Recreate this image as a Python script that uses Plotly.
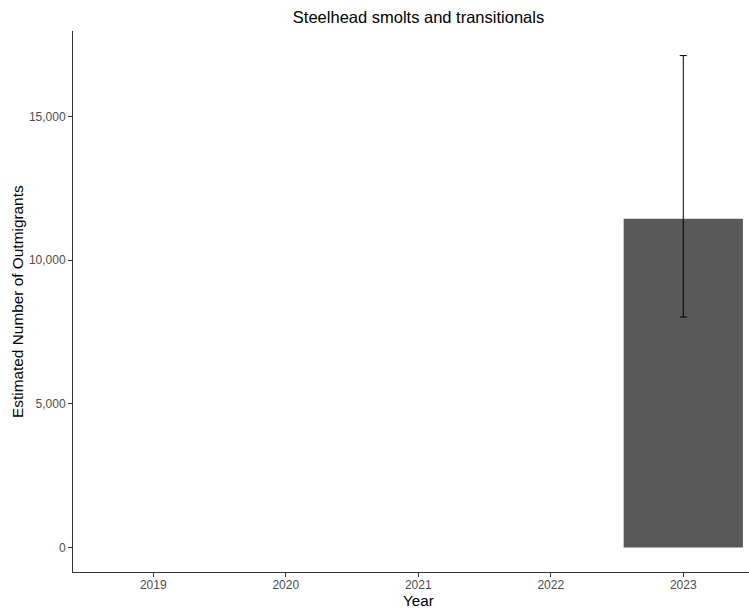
import plotly.graph_objects as go

# Outmigrant estimates by year (only 2023 was estimated)
years = ["2019", "2020", "2021", "2022", "2023"]
estimates = [None, None, None, None, 11440]
upper_ci = [None, None, None, None, 17120]
lower_ci = [None, None, None, None, 8020]

err_plus = [None if e is None else u - e for e, u in zip(estimates, upper_ci)]
err_minus = [None if e is None else e - l for e, l in zip(estimates, lower_ci)]

FONT = "Liberation Sans, Arial, sans-serif"

fig = go.Figure()
fig.add_trace(go.Bar(
    x=years,
    y=estimates,
    width=0.9,
    marker=dict(color="#595959", line=dict(width=0)),
    error_y=dict(
        type="data",
        symmetric=False,
        array=err_plus,
        arrayminus=err_minus,
        color="black",
        thickness=1,
        width=3.5,
    ),
    showlegend=False,
))

fig.update_layout(
    width=749,
    height=608,
    margin=dict(l=73, r=0, t=31, b=36),
    plot_bgcolor="white",
    paper_bgcolor="white",
    separators=".,",
    font=dict(family=FONT, color="black"),
    title=dict(
        text="Steelhead smolts and transitionals",
        font=dict(family=FONT, size=16.5, color="black"),
        xref="container", x=418.5 / 749, xanchor="center",
        yref="container", y=1 - 17 / 608, yanchor="middle",
    ),
    xaxis=dict(
        type="category",
        categoryorder="array",
        categoryarray=years,
        range=[-0.606, 4.496],
        showline=True, linecolor="#333333", linewidth=1,
        ticks="outside", ticklen=4, tickcolor="#333333", tickwidth=1,
        ticklabelstandoff=-2,
        tickfont=dict(family=FONT, size=12, color="#4D4D4D"),
        showgrid=False, zeroline=False,
    ),
    yaxis=dict(
        range=[-856, 17976],
        tickvals=[0, 5000, 10000, 15000],
        tickformat=",d",
        showline=True, linecolor="#333333", linewidth=1,
        ticks="outside", ticklen=4, tickcolor="#333333", tickwidth=1,
        tickfont=dict(family=FONT, size=12, color="#4D4D4D"),
        showgrid=False, zeroline=False,
    ),
    annotations=[
        dict(
            text="Year", showarrow=False,
            xref="paper", x=(419 - 73) / 676, xanchor="center",
            yref="paper", y=0, yanchor="middle", yshift=-28,
            font=dict(family=FONT, size=15.2, color="black"),
        ),
        dict(
            text="Estimated Number of Outmigrants", showarrow=False,
            textangle=-90,
            xref="paper", x=0, xanchor="center", xshift=-55.5,
            yref="paper", y=0.5, yanchor="middle",
            font=dict(family=FONT, size=15.4, color="black"),
        ),
    ],
)

fig.write_html("out.html")
